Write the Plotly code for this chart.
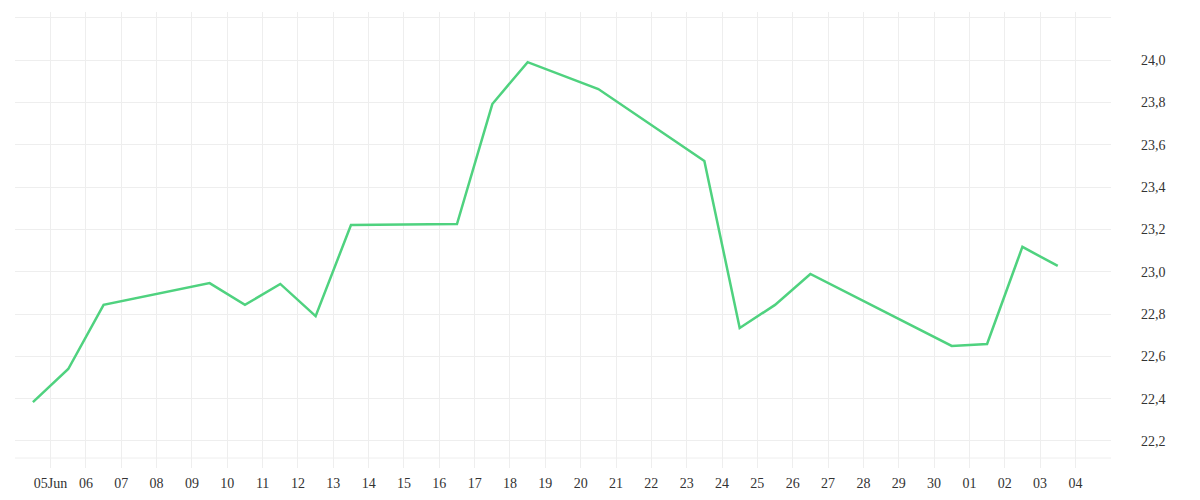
import plotly.graph_objects as go

dates = ["2024-06-04 12:00", "2024-06-05 12:00", "2024-06-06 12:00", "2024-06-09 12:00",
         "2024-06-10 12:00", "2024-06-11 12:00", "2024-06-12 12:00", "2024-06-13 12:00",
         "2024-06-16 12:00", "2024-06-17 12:00", "2024-06-18 12:00", "2024-06-20 12:00",
         "2024-06-23 12:00", "2024-06-24 12:00", "2024-06-25 12:00", "2024-06-26 12:00",
         "2024-06-30 12:00", "2024-07-01 12:00", "2024-07-02 12:00", "2024-07-03 12:00"]
values = [22.384, 22.54, 22.843, 22.946, 22.843, 22.942, 22.79, 23.22, 23.225, 23.792,
          23.99, 23.863, 23.523, 22.734, 22.843, 22.989, 22.649, 22.658, 23.117, 23.027]

tick_dates = ["2024-06-04"] + [f"2024-06-{d:02d}" for d in range(5, 31)] + \
             [f"2024-07-{d:02d}" for d in range(1, 6)]
tick_text = [""] + ["05Jun"] + [f"{d:02d}" for d in range(6, 31)] + \
            [f"{d:02d}" for d in range(1, 5)] + [""]
y_ticks = [22.2, 22.4, 22.6, 22.8, 23.0, 23.2, 23.4, 23.6, 23.8, 24.0, 24.2]
y_text = ["22,2", "22,4", "22,6", "22,8", "23,0", "23,2", "23,4", "23,6", "23,8", "24,0", ""]

grid = "#eeeeee"
fig = go.Figure(go.Scatter(x=dates, y=values, mode="lines",
                           line=dict(color="#4fd27f", width=2.5), hoverinfo="x+y"))

fig.update_layout(
    width=1200, height=500,
    margin=dict(l=7, r=97, t=4, b=40),
    paper_bgcolor="white", plot_bgcolor="white",
    font=dict(family="Liberation Serif", size=14, color="#333333"),
    showlegend=False,
    shapes=[dict(type="line", xref="paper", yref="paper", x0=0, x1=1,
                 y0=10 / 456, y1=10 / 456, line=dict(color=grid, width=1), layer="below")],
)
fig.update_xaxes(
    type="date", range=["2024-06-03 23:50", "2024-07-05 00:10"],
    tickmode="array", tickvals=tick_dates, ticktext=tick_text,
    showgrid=True, gridcolor=grid, gridwidth=1, zeroline=False, showline=False,
    ticks="", ticklabelstandoff=5,
)
fig.update_yaxes(
    range=[22.0724, 24.2268], side="right",
    tickmode="array", tickvals=y_ticks, ticktext=y_text,
    showgrid=True, gridcolor=grid, gridwidth=1, zeroline=False, showline=False,
    ticks="", ticklabelstandoff=29,
)
fig.write_html("out.html")
